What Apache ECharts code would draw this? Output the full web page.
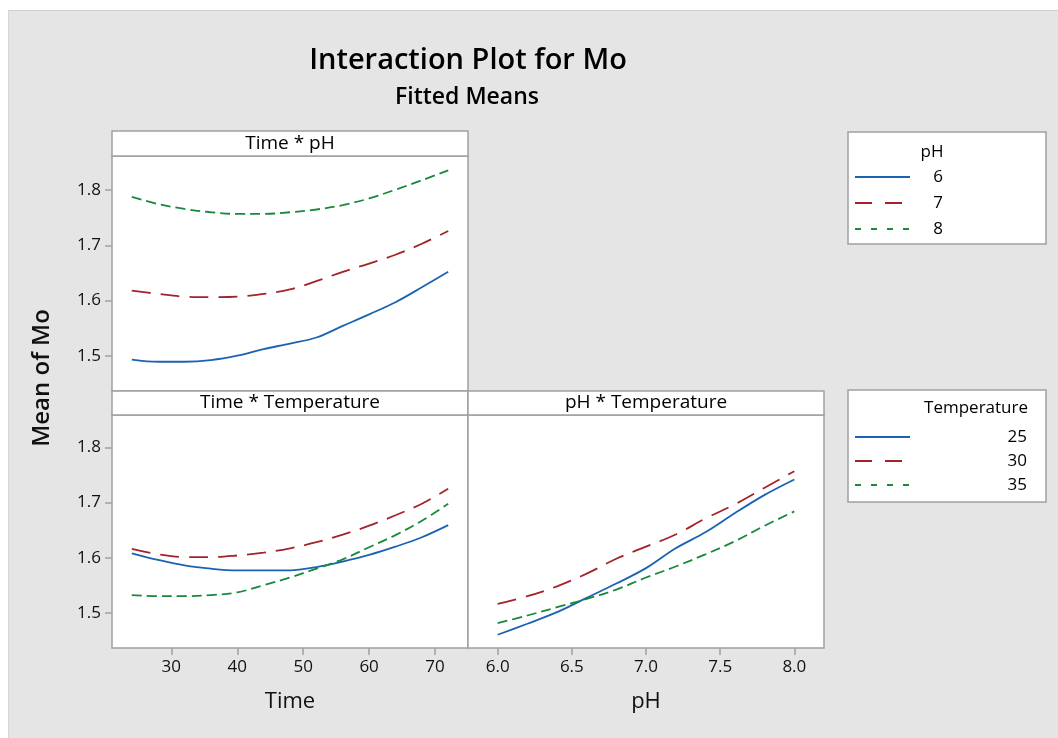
<!DOCTYPE html>
<html><head><meta charset="utf-8">
<script src="https://cdn.jsdelivr.net/npm/echarts@6/dist/echarts.min.js"></script>
<style>
html,body{margin:0;padding:0;background:#fff;}
#bg{position:absolute;left:8px;top:10px;width:1050px;height:728px;background:#e5e5e5;border-top:1px solid #d0d0d0;border-left:1px solid #d6d6d6;box-sizing:border-box;}
#c{position:absolute;left:0;top:0;width:1058px;height:738px;}
</style>
</head><body><div id="bg"></div><div id="c"></div>
<script>
// ---- data ----
const timeVals = [24, 28, 32, 36, 40, 44, 48, 52, 56, 60, 64, 68, 72];
const phVals = [6.0, 6.2, 6.4, 6.6, 6.8, 7.0, 7.2, 7.4, 7.6, 7.8, 8.0];

// Time * pH
const timePh6 = [1.493, 1.489, 1.489, 1.492, 1.500, 1.512, 1.522, 1.533, 1.554, 1.575, 1.597, 1.624, 1.652];
const timePh7 = [1.618, 1.612, 1.607, 1.606, 1.607, 1.612, 1.620, 1.635, 1.652, 1.667, 1.683, 1.703, 1.726];
const timePh8 = [1.788, 1.775, 1.766, 1.760, 1.757, 1.757, 1.760, 1.765, 1.773, 1.785, 1.801, 1.818, 1.836];

// Time * Temperature
const timeT25 = [1.608, 1.596, 1.586, 1.580, 1.577, 1.577, 1.577, 1.583, 1.593, 1.605, 1.620, 1.637, 1.659];
const timeT30 = [1.616, 1.606, 1.601, 1.601, 1.604, 1.609, 1.617, 1.628, 1.642, 1.658, 1.677, 1.698, 1.725];
const timeT35 = [1.532, 1.530, 1.530, 1.532, 1.537, 1.550, 1.564, 1.580, 1.597, 1.619, 1.641, 1.667, 1.698];

// pH * Temperature
const phT25 = [1.460, 1.480, 1.501, 1.527, 1.553, 1.581, 1.617, 1.646, 1.681, 1.714, 1.742];
const phT30 = [1.516, 1.530, 1.548, 1.571, 1.598, 1.620, 1.642, 1.671, 1.697, 1.727, 1.757];
const phT35 = [1.481, 1.495, 1.510, 1.525, 1.542, 1.564, 1.584, 1.606, 1.630, 1.658, 1.684];

const yTicks = [1.5, 1.6, 1.7, 1.8];
const timeTicks = [30, 40, 50, 60, 70];
const phTicks = [6.0, 6.5, 7.0, 7.5, 8.0];
const phLevels = ['6', '7', '8'];
const tempLevels = ['25', '30', '35'];

// ---- styles ----
const FONT = '"Open Sans","Noto Sans",sans-serif';
const BLUE = '#1c62b2', RED = '#a3232b', GREEN = '#17893a';
const GRAYB = '#a0a0a0';
const styles = [
  {color: BLUE, type: 'solid'},
  {color: RED, type: [19, 10]},
  {color: GREEN, type: [10, 5]}
];

function mk(xs, ys) { return xs.map((x, i) => [x, ys[i]]); }
function line(idx, xs, ys, k) {
  return {
    type: 'line', xAxisIndex: idx, yAxisIndex: idx, data: mk(xs, ys),
    showSymbol: false, symbol: 'none', smooth: 0.35, silent: true,
    lineStyle: {color: styles[k].color, type: styles[k].type, width: 1.8},
    itemStyle: {color: styles[k].color}
  };
}

const gridBase = {show: true, backgroundColor: '#fff', borderColor: GRAYB, borderWidth: 1.5, containLabel: false};
const tickStyle = {color: GRAYB, width: 1.5};
const labelStyle = {fontSize: 17, color: '#111', fontFamily: FONT, fontWeight: 500};

function yAxis(idx, max, showLabels) {
  return {
    type: 'value', gridIndex: idx, min: 1.436, max: max,
    axisLine: {show: false}, splitLine: {show: false},
    axisTick: {show: showLabels, customValues: yTicks, length: 7, lineStyle: tickStyle},
    axisLabel: Object.assign({show: showLabels, customValues: yTicks, margin: 11,
      formatter: v => v.toFixed(1)}, labelStyle)
  };
}

const TXT = (x, y, text, size, align, extra) => ({type: 'text', x: x, y: y,
  style: Object.assign({text: text, fontSize: size, fontFamily: FONT, fill: '#000', align: align || 'center', verticalAlign: 'middle'}, extra || {})});

const chart = echarts.init(document.getElementById('c'));
chart.setOption({
  animation: false,
  textStyle: {fontFamily: FONT},
  grid: [
    Object.assign({left: 112, top: 156, width: 356, height: 235}, gridBase),
    Object.assign({left: 112, top: 415, width: 356, height: 233}, gridBase),
    Object.assign({left: 468, top: 415, width: 356, height: 233}, gridBase)
  ],
  xAxis: [
    {type: 'value', gridIndex: 0, min: 21, max: 75, axisLine: {show: false}, splitLine: {show: false},
      axisTick: {show: false}, axisLabel: {show: false}},
    {type: 'value', gridIndex: 1, min: 21, max: 75, axisLine: {show: false}, splitLine: {show: false},
      axisTick: {show: true, customValues: timeTicks, length: 7, lineStyle: tickStyle},
      axisLabel: Object.assign({customValues: timeTicks, margin: 11}, labelStyle),
      name: 'Time', nameLocation: 'middle', nameGap: 43,
      nameTextStyle: {fontSize: 22, color: '#111', fontFamily: FONT, fontWeight: 500}},
    {type: 'value', gridIndex: 2, min: 5.8, max: 8.2, axisLine: {show: false}, splitLine: {show: false},
      axisTick: {show: true, customValues: phTicks, length: 7, lineStyle: tickStyle},
      axisLabel: Object.assign({customValues: phTicks, margin: 11, formatter: v => v.toFixed(1)}, labelStyle),
      name: 'pH', nameLocation: 'middle', nameGap: 43,
      nameTextStyle: {fontSize: 22, color: '#111', fontFamily: FONT, fontWeight: 500}}
  ],
  yAxis: [yAxis(0, 1.862, true), yAxis(1, 1.859, true), yAxis(2, 1.859, false)],
  series: [
    line(0, timeVals, timePh6, 0), line(0, timeVals, timePh7, 1), line(0, timeVals, timePh8, 2),
    line(1, timeVals, timeT25, 0), line(1, timeVals, timeT30, 1), line(1, timeVals, timeT35, 2),
    line(2, phVals, phT25, 0), line(2, phVals, phT30, 1), line(2, phVals, phT35, 2)
  ],
  graphic: [
    TXT(468, 61, 'Interaction Plot for Mo', 29, 'center', {fontWeight: 600}),
    TXT(467, 97, 'Fitted Means', 23, 'center', {fontWeight: 600}),
    {type: 'text', x: 42, y: 378, rotation: Math.PI / 2, style: {text: 'Mean of Mo', fontSize: 24,
      fontWeight: 600, fontFamily: FONT, fill: '#111', align: 'center', verticalAlign: 'middle'}},
    // panel headers
    {type: 'rect', shape: {x: 112, y: 131, width: 356, height: 25}, style: {fill: '#fff', stroke: GRAYB, lineWidth: 1.5}},
    TXT(290, 144, 'Time * pH', 19, 'center', {fontWeight: 500}),
    {type: 'rect', shape: {x: 112, y: 391, width: 356, height: 24}, style: {fill: '#fff', stroke: GRAYB, lineWidth: 1.5}},
    TXT(290, 403, 'Time * Temperature', 19, 'center', {fontWeight: 500}),
    {type: 'rect', shape: {x: 468, y: 391, width: 356, height: 24}, style: {fill: '#fff', stroke: GRAYB, lineWidth: 1.5}},
    TXT(646, 403, 'pH * Temperature', 19, 'center', {fontWeight: 500}),
    // legend 1
    {type: 'rect', shape: {x: 848, y: 132, width: 198, height: 112}, style: {fill: '#fff', stroke: GRAYB, lineWidth: 1.5}},
    TXT(932, 152, 'pH', 17, 'center', {fontWeight: 500}),
    {type: 'line', shape: {x1: 855, y1: 177, x2: 910, y2: 177}, style: {stroke: BLUE, lineWidth: 1.8}},
    {type: 'line', shape: {x1: 855, y1: 203, x2: 910, y2: 203}, style: {stroke: RED, lineWidth: 1.8, lineDash: [17, 13]}},
    {type: 'line', shape: {x1: 855, y1: 229, x2: 910, y2: 229}, style: {stroke: GREEN, lineWidth: 1.8, lineDash: [6, 10]}},
    TXT(938, 177, phLevels[0], 17, 'center', {fontWeight: 500}),
    TXT(938, 203, phLevels[1], 17, 'center', {fontWeight: 500}),
    TXT(938, 229, phLevels[2], 17, 'center', {fontWeight: 500}),
    // legend 2
    {type: 'rect', shape: {x: 848, y: 390, width: 198, height: 112}, style: {fill: '#fff', stroke: GRAYB, lineWidth: 1.5}},
    TXT(1028, 408, 'Temperature', 17, 'right', {fontWeight: 500}),
    {type: 'line', shape: {x1: 855, y1: 437, x2: 910, y2: 437}, style: {stroke: BLUE, lineWidth: 1.8}},
    {type: 'line', shape: {x1: 855, y1: 461, x2: 910, y2: 461}, style: {stroke: RED, lineWidth: 1.8, lineDash: [17, 13]}},
    {type: 'line', shape: {x1: 855, y1: 485, x2: 910, y2: 485}, style: {stroke: GREEN, lineWidth: 1.8, lineDash: [6, 10]}},
    TXT(1027, 437, tempLevels[0], 17, 'right', {fontWeight: 500}),
    TXT(1027, 461, tempLevels[1], 17, 'right', {fontWeight: 500}),
    TXT(1027, 485, tempLevels[2], 17, 'right', {fontWeight: 500})
  ]
});
</script>
</body></html>
